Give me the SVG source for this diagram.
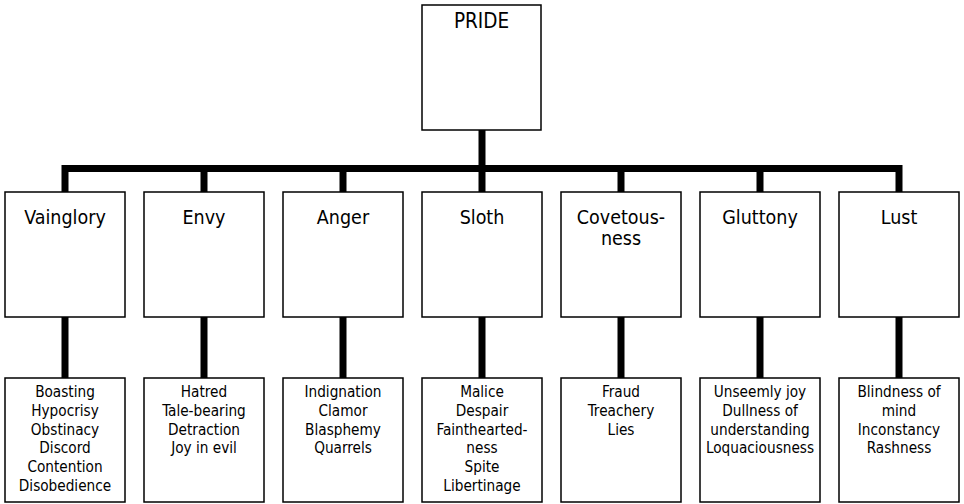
<svg xmlns="http://www.w3.org/2000/svg" width="964" height="504" viewBox="0 0 964 504">
<style>
.box{fill:#fff;stroke:#000;stroke-width:1.5}
.con{fill:none;stroke:#000;stroke-width:7;stroke-linejoin:miter}
text{font-family:"DejaVu Sans Condensed","DejaVu Sans",sans-serif;fill:#000;text-anchor:middle}
.t{font-size:19.5px}
.p{font-size:20.5px}
.s{font-size:15.2px}
</style>
<rect width="964" height="504" fill="#fff"/>
<g id="connectors">
<path class="con" d="M482,130 V192"/>
<path class="con" d="M65,192 V168.5 H899 V192"/>
<path class="con" d="M204,168.5 V192 M343,168.5 V192 M621,168.5 V192 M760,168.5 V192"/>
<path class="con" d="M65,317 V378 M204,317 V378 M343,317 V378 M482,317 V378 M621,317 V378 M760,317 V378 M899,317 V378"/>
</g>
<g id="pride"><rect class="box" x="422" y="5" width="119" height="125"/><text class="p" x="481.5" y="27.5">PRIDE</text></g>
<g id="vainglory"><rect class="box" x="5" y="192" width="120" height="125"/><text class="t" x="65" y="223.5">Vainglory</text></g>
<g id="envy"><rect class="box" x="144" y="192" width="120" height="125"/><text class="t" x="204" y="223.5">Envy</text></g>
<g id="anger"><rect class="box" x="283" y="192" width="120" height="125"/><text class="t" x="343" y="223.5">Anger</text></g>
<g id="sloth"><rect class="box" x="422" y="192" width="120" height="125"/><text class="t" x="482" y="223.5">Sloth</text></g>
<g id="covetousness"><rect class="box" x="561" y="192" width="120" height="125"/><text class="t" x="621" y="223.5">Covetous-</text><text class="t" x="621" y="244.5">ness</text></g>
<g id="gluttony"><rect class="box" x="700" y="192" width="120" height="125"/><text class="t" x="760" y="223.5">Gluttony</text></g>
<g id="lust"><rect class="box" x="839" y="192" width="120" height="125"/><text class="t" x="899" y="223.5">Lust</text></g>
<g id="vainglory-daughters"><rect class="box" x="5" y="378" width="120" height="124"/>
<text class="s" x="65" y="397">Boasting</text><text class="s" x="65" y="415.8">Hypocrisy</text><text class="s" x="65" y="434.6">Obstinacy</text><text class="s" x="65" y="453.4">Discord</text><text class="s" x="65" y="472.2">Contention</text><text class="s" x="65" y="491">Disobedience</text></g>
<g id="envy-daughters"><rect class="box" x="144" y="378" width="120" height="124"/>
<text class="s" x="204" y="397">Hatred</text><text class="s" x="204" y="415.8">Tale-bearing</text><text class="s" x="204" y="434.6">Detraction</text><text class="s" x="204" y="453.4">Joy in evil</text></g>
<g id="anger-daughters"><rect class="box" x="283" y="378" width="120" height="124"/>
<text class="s" x="343" y="397">Indignation</text><text class="s" x="343" y="415.8">Clamor</text><text class="s" x="343" y="434.6">Blasphemy</text><text class="s" x="343" y="453.4">Quarrels</text></g>
<g id="sloth-daughters"><rect class="box" x="422" y="378" width="120" height="124"/>
<text class="s" x="482" y="397">Malice</text><text class="s" x="482" y="415.8">Despair</text><text class="s" x="482" y="434.6">Fainthearted-</text><text class="s" x="482" y="453.4">ness</text><text class="s" x="482" y="472.2">Spite</text><text class="s" x="482" y="491">Libertinage</text></g>
<g id="covetousness-daughters"><rect class="box" x="561" y="378" width="120" height="124"/>
<text class="s" x="621" y="397">Fraud</text><text class="s" x="621" y="415.8">Treachery</text><text class="s" x="621" y="434.6">Lies</text></g>
<g id="gluttony-daughters"><rect class="box" x="700" y="378" width="120" height="124"/>
<text class="s" x="760" y="397">Unseemly joy</text><text class="s" x="760" y="415.8">Dullness of</text><text class="s" x="760" y="434.6">understanding</text><text class="s" x="760" y="453.4">Loquaciousness</text></g>
<g id="lust-daughters"><rect class="box" x="839" y="378" width="120" height="124"/>
<text class="s" x="899" y="397">Blindness of</text><text class="s" x="899" y="415.8">mind</text><text class="s" x="899" y="434.6">Inconstancy</text><text class="s" x="899" y="453.4">Rashness</text></g>
</svg>
